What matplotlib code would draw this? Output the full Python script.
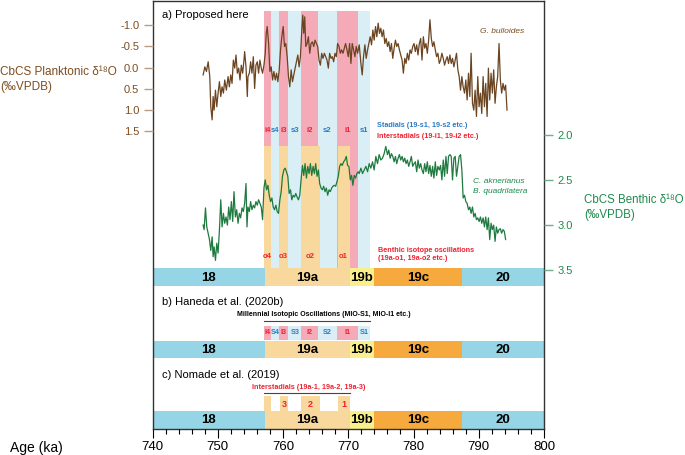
import matplotlib

matplotlib.use("Agg")
matplotlib.rcParams["axes.unicode_minus"] = False
import matplotlib.pyplot as plt  # noqa: E402
from matplotlib.patches import Rectangle  # noqa: E402
from matplotlib.ticker import MultipleLocator  # noqa: E402

plt.rcParams["font.family"] = ["Liberation Sans", "DejaVu Sans"]

# ---- G. bulloides (planktonic d18O, permil VPDB) ----
plank_age = [
    747.76, 748.02, 748.27, 748.53, 748.78, 748.93, 749.14, 749.29, 749.44, 749.65,
    749.85, 750.05, 750.26, 750.46, 750.66, 750.87, 751.07, 751.32, 751.58, 751.78,
    751.99, 752.19, 752.39, 752.60, 752.80, 753.00, 753.21, 753.41, 753.61, 753.82,
    754.02, 754.12, 754.33, 754.53, 754.63, 754.84, 755.04, 755.24, 755.45, 755.65,
    755.85, 756.06, 756.26, 756.46, 756.67, 756.87, 757.08, 757.28, 757.43, 757.58,
    757.79, 757.99, 758.19, 758.40, 758.60, 758.81, 759.01, 759.21, 759.42, 759.62,
    759.82, 760.03, 760.23, 760.43, 760.64, 760.84, 761.04, 761.25, 761.45, 761.65,
    761.86, 762.06, 762.27, 762.47, 762.67, 762.88, 763.03, 763.18, 763.33, 763.49,
    763.69, 763.89, 764.10, 764.30, 764.50, 764.71, 764.91, 765.12, 765.32, 765.52,
    765.73, 765.93, 766.13, 766.34, 766.54, 766.74, 766.95, 767.15, 767.36, 767.56,
    767.76, 767.97, 768.17, 768.37, 768.58, 768.78, 768.98, 769.19, 769.39, 769.59,
    769.80, 770.00, 770.21, 770.41, 770.61, 770.82, 771.02, 771.22, 771.43, 771.68,
    771.94, 772.14, 772.34, 772.55, 772.75, 772.96, 773.16, 773.36, 773.57, 773.77,
    773.97, 774.18, 774.38, 774.58, 774.79, 774.99, 775.19, 775.40, 775.60, 775.81,
    776.01, 776.21, 776.42, 776.62, 776.82, 777.03, 777.23, 777.43, 777.64, 777.84,
    778.04, 778.25, 778.45, 778.66, 778.86, 779.06, 779.27, 779.47, 779.67, 779.88,
    780.08, 780.28, 780.49, 780.69, 780.89, 781.10, 781.30, 781.51, 781.71, 781.91,
    782.12, 782.32, 782.52, 782.73, 782.93, 783.13, 783.34, 783.54, 783.74, 783.95,
    784.15, 784.35, 784.56, 784.76, 784.97, 785.17, 785.37, 785.58, 785.78, 785.98,
    786.19, 786.39, 786.59, 786.80, 787.00, 787.21, 787.41, 787.61, 787.82, 788.02,
    788.22, 788.43, 788.63, 788.83, 789.04, 789.24, 789.44, 789.65, 789.85, 790.05,
    790.26, 790.46, 790.67, 790.87, 791.07, 791.28, 791.48, 791.68, 791.89, 792.09,
    792.29, 792.50, 792.70, 792.90, 793.11, 793.31, 793.51, 793.72, 793.92, 794.12,
    794.33,
]
plank_d18o = [
    0.17, -0.02, 0.09, -0.14, 0.21, 0.92, 1.23, 0.68, 1.00, 0.53,
    0.92, 0.60, 0.33, 0.68, 0.45, 0.60, 0.29, 0.53, 0.21, 0.45,
    0.17, 0.37, -0.18, 0.01, -0.30, 0.13, 0.01, 0.29, -0.06, 0.13,
    -0.18, -0.38, -0.02, 0.68, 0.21, 0.13, -0.14, 0.13, -0.26, 0.49,
    -0.06, -0.14, 0.13, -0.18, 0.01, 0.13, -0.06, -0.34, -0.81, -0.97,
    -0.57, 0.09, -0.02, 0.29, 0.09, 0.29, 0.13, 0.33, 0.05, -0.42,
    -0.73, -0.97, -0.50, -0.57, -0.26, 0.21, 0.45, 0.05, 0.33, 0.17,
    0.01, -0.14, -0.30, -0.02, -0.26, -0.89, -1.24, -0.81, -1.20, -0.50,
    -0.57, -0.73, -0.34, -0.57, -0.61, -0.50, -0.65, -0.57, -0.50, -0.18,
    -0.06, -0.34, -0.22, -0.34, -0.26, -0.18, 0.01, -0.34, -0.22, -0.26,
    -0.14, -0.34, -0.26, -0.57, -0.50, -0.34, -0.42, -0.34, -0.46, -0.57,
    -0.42, -0.26, -0.57, -0.10, -0.57, -0.42, -0.26, -0.50, -0.34, -0.54,
    -0.10, 0.17, -0.26, -0.54, -0.22, -0.42, -0.57, -0.73, -0.54, -0.89,
    -0.65, -0.97, -0.73, -1.05, -0.81, -0.93, -0.73, -0.89, -0.57, -0.69,
    -0.50, -0.61, -0.38, -0.57, -0.22, -0.46, -0.65, -0.50, -0.57, -0.42,
    -0.30, -0.18, 0.13, -0.22, -0.10, -0.34, -0.18, -0.42, -0.34, -0.50,
    -0.57, -0.38, -0.54, -0.30, -0.57, -0.69, -0.18, -0.73, -0.46, -0.57,
    -0.34, -0.65, -1.13, -0.69, -0.50, -0.61, -0.42, -0.26, -0.34, -0.10,
    -0.18, -0.34, -0.22, -0.06, -0.18, -0.26, -0.10, -0.30, -0.10, -0.22,
    -0.02, -0.18, -0.34, 0.05, 0.21, 0.53, 0.21, 0.45, 0.60, 0.29,
    0.76, 0.13, 0.68, -0.34, 0.84, 1.00, 0.53, 1.15, 0.21, 0.92,
    0.60, 1.08, 0.21, 0.92, 0.37, 1.15, 0.01, 0.76, 0.13, 0.60,
    0.05, 0.84, 0.45, 0.21, -0.57, 0.29, 0.60, 0.37, 0.53, 0.41,
    1.00,
]

# ---- C. aknerianus / B. quadrilatera (benthic d18O, permil VPDB) ----
benth_age = [
    747.76, 747.91, 748.12, 748.32, 748.53, 748.73, 748.93, 749.14, 749.29, 749.44,
    749.65, 749.85, 750.05, 750.26, 750.46, 750.66, 750.87, 751.07, 751.27, 751.48,
    751.68, 751.88, 752.09, 752.29, 752.49, 752.70, 752.90, 753.11, 753.31, 753.51,
    753.72, 753.92, 754.12, 754.33, 754.48, 754.63, 754.84, 755.04, 755.24, 755.45,
    755.65, 755.85, 756.06, 756.26, 756.46, 756.67, 756.87, 757.08, 757.28, 757.48,
    757.69, 757.89, 758.09, 758.30, 758.50, 758.70, 758.91, 759.11, 759.31, 759.52,
    759.72, 759.92, 760.13, 760.33, 760.53, 760.74, 760.94, 761.15, 761.35, 761.55,
    761.76, 761.96, 762.16, 762.37, 762.57, 762.77, 762.98, 763.18, 763.38, 763.59,
    763.79, 763.99, 764.20, 764.40, 764.61, 764.81, 765.01, 765.22, 765.42, 765.62,
    765.83, 766.03, 766.23, 766.44, 766.64, 766.85, 767.05, 767.25, 767.46, 767.66,
    767.86, 768.07, 768.27, 768.47, 768.68, 768.88, 769.08, 769.29, 769.49, 769.70,
    769.90, 770.10, 770.31, 770.51, 770.71, 770.92, 771.12, 771.32, 771.53, 771.68,
    771.94, 772.19, 772.45, 772.70, 772.96, 773.21, 773.46, 773.72, 773.97, 774.23,
    774.48, 774.74, 774.99, 775.25, 775.50, 775.75, 776.01, 776.21, 776.42, 776.62,
    776.82, 777.03, 777.23, 777.43, 777.64, 777.84, 778.04, 778.25, 778.45, 778.66,
    778.86, 779.06, 779.27, 779.47, 779.67, 779.88, 780.08, 780.28, 780.49, 780.69,
    780.89, 781.10, 781.30, 781.51, 781.71, 781.91, 782.12, 782.32, 782.52, 782.73,
    782.93, 783.13, 783.34, 783.54, 783.74, 783.95, 784.15, 784.35, 784.56, 784.76,
    784.97, 785.17, 785.37, 785.58, 785.78, 785.98, 786.19, 786.39, 786.59, 786.80,
    787.00, 787.21, 787.41, 787.61, 787.82, 788.02, 788.22, 788.43, 788.63, 788.83,
    789.04, 789.24, 789.44, 789.65, 789.85, 790.05, 790.26, 790.46, 790.67, 790.87,
    791.07, 791.28, 791.48, 791.68, 791.89, 792.09, 792.29, 792.50, 792.70, 792.90,
    793.11, 793.31, 793.51, 793.72, 793.92, 794.12,
]
benth_d18o = [
    3.00, 3.05, 2.81, 3.02, 3.09, 3.16, 3.28, 3.13, 3.35, 3.24,
    3.39, 3.20, 3.31, 3.05, 2.72, 3.02, 2.87, 2.98, 2.91, 3.00,
    2.80, 2.94, 2.74, 2.96, 2.63, 2.91, 2.83, 2.98, 2.87, 2.92,
    2.81, 2.85, 2.76, 2.54, 3.02, 2.80, 2.85, 2.74, 2.83, 2.78,
    2.81, 2.74, 2.78, 2.72, 2.76, 2.80, 2.94, 2.59, 2.50, 2.61,
    2.56, 2.67, 2.74, 2.70, 2.80, 2.83, 2.78, 2.85, 2.87, 2.72,
    2.63, 2.46, 2.39, 2.37, 2.41, 2.46, 2.65, 2.61, 2.72, 2.67,
    2.69, 2.65, 2.69, 2.72, 2.67, 2.50, 2.34, 2.45, 2.32, 2.48,
    2.35, 2.43, 2.32, 2.45, 2.35, 2.43, 2.32, 2.46, 2.39, 2.54,
    2.59, 2.61, 2.57, 2.63, 2.59, 2.67, 2.61, 2.63, 2.59, 2.57,
    2.56, 2.57, 2.52, 2.46, 2.35, 2.32, 2.34, 2.30, 2.28, 2.24,
    2.34, 2.35, 2.50, 2.45, 2.56, 2.45, 2.48, 2.43, 2.41, 2.43,
    2.37, 2.43, 2.39, 2.35, 2.41, 2.32, 2.37, 2.30, 2.39, 2.24,
    2.32, 2.22, 2.28, 2.26, 2.21, 2.13, 2.22, 2.17, 2.26, 2.21,
    2.24, 2.30, 2.24, 2.32, 2.26, 2.22, 2.28, 2.24, 2.30, 2.26,
    2.32, 2.28, 2.35, 2.30, 2.24, 2.35, 2.32, 2.30, 2.41, 2.28,
    2.37, 2.32, 2.39, 2.43, 2.32, 2.41, 2.30, 2.43, 2.34, 2.46,
    2.35, 2.48, 2.30, 2.45, 2.35, 2.39, 2.34, 2.50, 2.28, 2.46,
    2.24, 2.43, 2.24, 2.22, 2.24, 2.50, 2.26, 2.24, 2.46, 2.35,
    2.24, 2.22, 2.39, 2.70, 2.67, 2.74, 2.76, 2.83, 2.80, 2.87,
    2.80, 2.91, 2.87, 2.94, 2.92, 2.96, 2.91, 2.98, 2.92, 3.02,
    2.91, 3.05, 2.92, 3.16, 2.98, 3.05, 3.00, 3.18, 3.02, 3.09,
    3.05, 3.04, 3.09, 3.05, 3.07, 3.16,
]

# ---- stratigraphy (ka) ----
mis_edges = [740.0, 757.2, 770.2, 774.0, 787.4, 800.0]
mis_labels = ["18", "19a", "19b", "19c", "20"]
event_edges = [757.1, 758.2, 759.4, 760.8, 762.8, 765.3, 768.3, 771.5, 773.3]
event_labels_a = ["i4", "s4", "i3", "s3", "i2", "s2", "i1", "s1"]
event_labels_b = ["I4", "S4", "I3", "S3", "I2", "S2", "I1", "S1"]
osc_start = [757.1, 759.4, 762.8, 768.4]
osc_end = [758.2, 760.8, 765.7, 770.2]
osc_labels = ["o4", "o3", "o2", "o1"]
nom_start = [757.1, 759.6, 762.8, 768.5]
nom_end = [758.1, 760.8, 765.7, 770.2]
nom_labels = ["", "3", "2", "1"]

MIS_COL = ["#95d5e6", "#f8d89c", "#f9f08c", "#f6aa3d", "#95d5e6"]
PINK = "#f5aab8"
LBLUE = "#d9eff5"
ORANGE = "#f8d89c"
RED = "#ee2233"
BLUE = "#2b7bc4"
BROWN = "#6b4421"
BROWN_T = "#7d4d20"
GREEN = "#1f7a3f"
GREEN_T = "#1e8a4c"

W, H = 685, 455
L, R, T, B = 152.5, 544.0, 1.0, 428.5

fig = plt.figure(figsize=(W / 100, H / 100), dpi=100)
rect = [L / W, 1 - B / H, (R - L) / W, (B - T) / H]
ax = fig.add_axes(rect)
ax.set_xlim(740, 800)
ax.set_ylim(B, T)  # layout rows (top = 1)
for s in ax.spines.values():
    s.set_color("#333333")
    s.set_linewidth(1.0)
ax.set_yticks([])
ax.xaxis.set_major_locator(MultipleLocator(10))
ax.xaxis.set_minor_locator(MultipleLocator(2))
ax.tick_params(axis="x", which="major", length=6.5, width=0.8, labelsize=9.5, pad=2.5)
ax.tick_params(axis="x", which="minor", length=3.6, width=0.8)
fig.text(10 / W, 1 - 448 / H, "Age (ka)", fontsize=10, ha="left", va="center")


def box(x0, x1, y0, y1, color, z=1):
    ax.add_patch(Rectangle((x0, y0), x1 - x0, y1 - y0, facecolor=color,
                           edgecolor="none", zorder=z))


def mis_bar(y0, y1):
    for k, lab in enumerate(mis_labels):
        box(mis_edges[k], mis_edges[k + 1], y0, y1, MIS_COL[k], z=2)
        ax.text((mis_edges[k] + mis_edges[k + 1]) / 2, (y0 + y1) / 2 + 0.5, lab,
                ha="center", va="center", fontsize=9.5, fontweight="bold", zorder=5)


# ---- panel a ----
ax.text(741.4, 15, "a) Proposed here", fontsize=8, ha="left", va="center")
for k, lab in enumerate(event_labels_a):
    col = PINK if lab.startswith("i") else LBLUE
    box(event_edges[k], event_edges[k + 1], 10.5, 268, col)
    ax.text((event_edges[k] + event_edges[k + 1]) / 2, 130.5, lab, ha="center", va="center",
            fontsize=5.6, fontweight="bold", color=RED if lab.startswith("i") else BLUE, zorder=4)
for x0, x1, lab in zip(osc_start, osc_end, osc_labels):
    box(x0, x1, 146, 268, ORANGE, z=1.5)
    ax.text((x0 + x1) / 2, 256, lab, ha="center", va="center", fontsize=5.6,
            fontweight="bold", color=RED, zorder=4)
ax.text(774.4, 125.7, "Stadials (19-s1, 19-s2 etc.)", fontsize=5.2, fontweight="bold",
        color=BLUE, ha="left", va="center")
ax.text(774.4, 136.8, "Interstadials (19-i1, 19-i2 etc.)", fontsize=5.2, fontweight="bold",
        color=RED, ha="left", va="center")
ax.text(774.5, 250.8, "Benthic isotope oscillations", fontsize=5.2, fontweight="bold",
        color=RED, ha="left", va="center")
ax.text(774.5, 258.6, "(19a-o1, 19a-o2 etc.)", fontsize=5.2, fontweight="bold",
        color=RED, ha="left", va="center")
ax.text(790.2, 31, "G. bulloides", fontsize=6, style="italic", color=BROWN_T,
        ha="left", va="center")
ax.text(789.1, 181.5, "C. aknerianus", fontsize=6, style="italic", color=GREEN_T,
        ha="left", va="center")
ax.text(789.1, 191.5, "B. quadrilatera", fontsize=6, style="italic", color=GREEN_T,
        ha="left", va="center")
mis_bar(268, 286)

# ---- panel b ----
ax.text(741.4, 302, "b) Haneda et al. (2020b)", fontsize=8, ha="left", va="center")
ax.text(766.2, 314, "Millennial Isotopic Oscillations (MIO-S1, MIO-I1 etc.)", fontsize=5,
        fontweight="bold", ha="center", va="center")
ax.plot([event_edges[0], event_edges[-1]], [321, 321], color="#444444", lw=0.8)
for k, lab in enumerate(event_labels_b):
    col = PINK if lab.startswith("I") else LBLUE
    box(event_edges[k], event_edges[k + 1], 326, 339.5, col)
    ax.text((event_edges[k] + event_edges[k + 1]) / 2, 332.8, lab, ha="center", va="center",
            fontsize=5.2, fontweight="bold", color=RED if lab.startswith("I") else BLUE)
mis_bar(340.5, 357.5)

# ---- panel c ----
ax.text(741.4, 375, "c) Nomade et al. (2019)", fontsize=8, ha="left", va="center")
ax.text(763.9, 387, "Interstadials (19a-1, 19a-2, 19a-3)", fontsize=5.2, fontweight="bold",
        color=RED, ha="center", va="center")
ax.plot([nom_start[0], nom_end[-1]], [393, 393], color="#444444", lw=0.8)
for x0, x1, lab in zip(nom_start, nom_end, nom_labels):
    box(x0, x1, 396, 412, ORANGE)
    ax.text((x0 + x1) / 2, 404, lab, ha="center", va="center", fontsize=6.5,
            fontweight="bold", color=RED)
mis_bar(411, 428.5)

# ---- planktonic series (left scale) ----
axp = fig.add_axes(rect, sharex=ax)
axp.patch.set_visible(False)
for s in axp.spines.values():
    s.set_visible(False)
axp.set_ylim(-1.0 + (B - 25.3) / 42.4, -1.0 - (25.3 - T) / 42.4)
axp.plot(plank_age, plank_d18o, color=BROWN, lw=0.9, zorder=3)
pt = [-1.0, -0.5, 0.0, 0.5, 1.0, 1.5]
axp.set_yticks(pt)
axp.set_yticklabels([f"{v:.1f}" for v in pt])
axp.tick_params(axis="y", left=True, labelleft=True, right=False, labelright=False,
                length=6.5, width=1.0, color="#b89c84", labelcolor=BROWN_T, labelsize=8, pad=3)
axp.tick_params(axis="x", bottom=False, labelbottom=False)
fig.text(0, 1 - 72 / H, "CbCS Planktonic δ¹⁸O", fontsize=8.5, color=BROWN_T,
         ha="left", va="center")
fig.text(0, 1 - 87 / H, "(‰VPDB)", fontsize=8.5, color=BROWN_T, ha="left", va="center")

# ---- benthic series (right scale) ----
axb = fig.add_axes(rect, sharex=ax)
axb.patch.set_visible(False)
for s in axb.spines.values():
    s.set_visible(False)
axb.set_ylim(2.0 + (B - 134.7) / 90.4, 2.0 - (134.7 - T) / 90.4)
axb.plot(benth_age, benth_d18o, color=GREEN, lw=0.9, zorder=3)
bt = [2.0, 2.5, 3.0, 3.5]
axb.set_yticks(bt)
axb.set_yticklabels([f"{v:.1f}" for v in bt])
axb.yaxis.tick_right()
axb.tick_params(axis="y", right=True, labelright=True, left=False, labelleft=False,
                length=6.5, width=1.0, color="#6fb08a", labelcolor=GREEN_T, labelsize=8, pad=3)
axb.tick_params(axis="x", bottom=False, labelbottom=False)
fig.text(584 / W, 1 - 200 / H, "CbCS Benthic δ¹⁸O", fontsize=8.3, color=GREEN_T,
         ha="left", va="center")
fig.text(584 / W, 1 - 215 / H, "(‰VPDB)", fontsize=8.3, color=GREEN_T, ha="left", va="center")

fig.savefig("out.png", dpi=100)
